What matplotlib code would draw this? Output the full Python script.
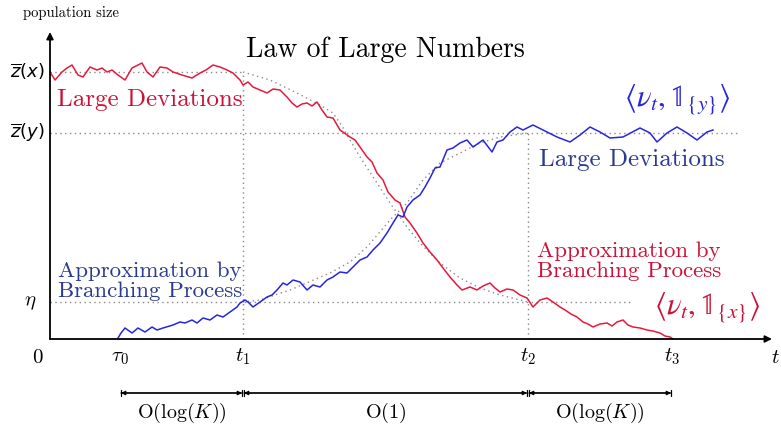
import matplotlib
matplotlib.use("Agg")
import matplotlib.pyplot as plt

plt.rcParams['mathtext.fontset'] = 'cm'
plt.rcParams['axes.unicode_minus'] = False

# reference levels and times
z_x = 267
z_y = 206
eta = 37
tau0, t1, t2, t3 = 70, 193, 478, 622

# resident trait x (red)
red_t = [0, 5, 12, 17, 22, 28, 33, 40, 47, 52, 57, 62, 68, 75, 82, 92, 97, 103, 110, 117,
         123, 132, 142, 150, 156, 163, 170, 177, 183, 190, 193, 198, 203, 210, 217, 223, 230,
         237, 242, 247, 252, 257, 262, 267, 272, 277, 283, 290, 300, 305, 310, 317, 322, 327,
         333, 338, 345, 350, 355, 360, 367, 373, 380, 387, 393, 400, 407, 412, 420, 427, 433,
         440, 445, 450, 457, 463, 470, 477, 483, 490, 497, 503, 510, 515, 521, 527, 533, 538,
         543, 550, 557, 562, 567, 573, 578, 583, 590, 597, 603, 610, 615, 620, 623]
red_n = [267, 259, 267, 271, 274, 264, 262, 272, 269, 271, 267, 269, 264, 259, 271, 276, 267,
         262, 272, 271, 267, 264, 261, 266, 269, 274, 272, 269, 266, 259, 254, 257, 252, 249,
         246, 250, 249, 242, 236, 232, 235, 236, 233, 237, 229, 222, 221, 209, 202, 199, 192,
         182, 177, 166, 159, 147, 139, 136, 122, 116, 106, 96, 87, 79, 71, 62, 54, 49, 52, 49,
         53, 56, 51, 47, 50, 49, 44, 41, 32, 39, 41, 37, 32, 29, 25, 22, 17, 15, 12, 15, 16, 13,
         17, 19, 14, 12, 11, 9, 8, 6, 3, 2, 0]

# mutant trait y (blue)
blue_t = [68, 71, 75, 82, 88, 95, 102, 107, 113, 123, 130, 135, 142, 147, 153, 160, 167, 173,
          180, 187, 190, 195, 198, 203, 210, 217, 222, 227, 233, 237, 243, 250, 257, 263, 270,
          277, 283, 290, 297, 302, 310, 317, 323, 330, 337, 343, 348, 353, 357, 363, 370, 375,
          380, 385, 390, 397, 403, 410, 417, 423, 433, 442, 447, 453, 460, 467, 473, 483, 493,
          507, 520, 530, 540, 550, 560, 573, 590, 600, 607, 617, 627, 637, 647, 657, 663]
blue_n = [1, 6, 11, 6, 11, 7, 12, 9, 11, 14, 17, 16, 19, 16, 21, 19, 24, 22, 27, 32, 36, 39,
          37, 32, 37, 42, 44, 49, 56, 54, 59, 57, 49, 54, 52, 59, 62, 67, 66, 71, 79, 82, 89,
          96, 106, 116, 124, 122, 132, 139, 144, 152, 161, 171, 172, 189, 191, 196, 199, 192,
          199, 187, 197, 199, 207, 212, 209, 214, 209, 202, 197, 204, 212, 207, 201, 202, 211,
          206, 197, 206, 212, 206, 199, 207, 209]

# deterministic (law of large numbers) limits
lln_red_t = [193, 220, 247, 270, 283, 292, 300, 310, 327, 340, 357, 370, 390, 410, 430, 450, 478]
lln_red_n = [267, 259, 246, 234, 226, 213, 199, 182, 156, 136, 112, 96, 76, 61, 51, 44, 37]
lln_blue_t = [193, 210, 240, 280, 300, 317, 340, 357, 373, 390, 410, 430, 450, 478]
lln_blue_n = [37, 39, 49, 66, 77, 92, 119, 136, 159, 176, 186, 196, 202, 206]

RED = '#e8193c'
RED_TXT = '#cc1238'
BLUE = '#2626e0'
BLUE_TXT = '#2b3a8e'
DOT = '#8a8a8a'

fig = plt.figure(figsize=(7.81, 4.30), dpi=100)
ax = fig.add_axes([0, 0, 1, 1])
ax.set_xlim(-50, 731)
ax.set_ylim(-91, 339)
ax.axis('off')

# dotted guide lines
dot = dict(color=DOT, lw=1.0, ls=(0, (1, 2.5)))
ax.plot([0, t1], [z_x, z_x], **dot)
ax.plot([0, 687], [z_y, z_y], **dot)
ax.plot([0, 580], [eta, eta], **dot)
ax.plot([t1, t1], [0, z_x], **dot)
ax.plot([t2, t2], [0, z_y], **dot)
ax.plot(lln_red_t, lln_red_n, **dot)
ax.plot(lln_blue_t, lln_blue_n, **dot)

ax.plot(red_t, red_n, color=RED, lw=1.1)
ax.plot(blue_t, blue_n, color=BLUE, lw=1.1)

# axes with arrows
arr = dict(arrowstyle='-|>', color='black', lw=1.3, mutation_scale=10, shrinkA=0, shrinkB=0)
ax.annotate('', xy=(722, 0), xytext=(0, 0), arrowprops=arr)
ax.annotate('', xy=(0, 307), xytext=(0, 0), arrowprops=arr)

ax.text(-27, 326, 'population size', family='cmr10', fontsize=10.5, ha='left', va='center')

# axis labels
ax.text(-5, z_x, r'$\overline{z}(x)$', fontsize=13, ha='right', va='center', math_fontfamily='dejavusans')
ax.text(-5, z_y, r'$\overline{z}(y)$', fontsize=13, ha='right', va='center', math_fontfamily='dejavusans')
ax.text(-20, eta, r'$\eta$', fontsize=15, ha='center', va='center')
ax.text(-12, -18, '$0$', fontsize=15, ha='center', va='center')
for tv, lab in [(tau0, r'$\tau_0$'), (t1, r'$t_1$'), (t2, r'$t_2$'), (t3, r'$t_3$'), (725, r'$t$')]:
    ax.text(tv, -18, lab, fontsize=15, ha='center', va='center')

# time scales of the three phases
span = dict(arrowstyle='<|-|>', color='black', lw=0.9, mutation_scale=6, shrinkA=0, shrinkB=0)
bars = dict(arrowstyle='|-|, widthA=0.25, widthB=0.25', color='black', lw=0.9,
            shrinkA=0, shrinkB=0)
for a, b, lab in [(tau0, t1, r'$\mathrm{O}(\log(K))$'), (t1, t2, r'$\mathrm{O}(1)$'),
                  (t2, t3, r'$\mathrm{O}(\log(K))$')]:
    ax.annotate('', xy=(b - 1, -54), xytext=(a + 1, -54), arrowprops=span)
    ax.annotate('', xy=(b - 1, -54), xytext=(a + 1, -54), arrowprops=bars)
    ax.text((a + b) / 2, -74, lab, fontsize=14.5, ha='center', va='center')

# annotations
ax.text(335, 289, 'Law of Large Numbers', family='cmr10', fontsize=20, ha='center', va='center')
ax.text(100, 239, 'Large Deviations', family='cmr10', fontsize=18, color=RED_TXT,
        ha='center', va='center')
ax.text(582, 179, 'Large Deviations', family='cmr10', fontsize=18, color=BLUE_TXT,
        ha='center', va='center')
ax.text(8, 58, 'Approximation by\nBranching Process', family='cmr10', fontsize=16.5,
        color=BLUE_TXT, ha='left', va='center', linespacing=1.0)
ax.text(487, 78, 'Approximation by\nBranching Process', family='cmr10', fontsize=16.5,
        color=RED_TXT, ha='left', va='center', linespacing=1.0)
ax.text(627, 239, r'$\langle\nu_t,\mathbb{1}_{\{y\}}\rangle$', fontsize=22, color=BLUE,
        ha='center', va='center', math_fontfamily='stix')
ax.text(657, 31, r'$\langle\nu_t,\mathbb{1}_{\{x\}}\rangle$', fontsize=22, color=RED_TXT,
        ha='center', va='center', math_fontfamily='stix')

fig.savefig('out.png', dpi=100)
